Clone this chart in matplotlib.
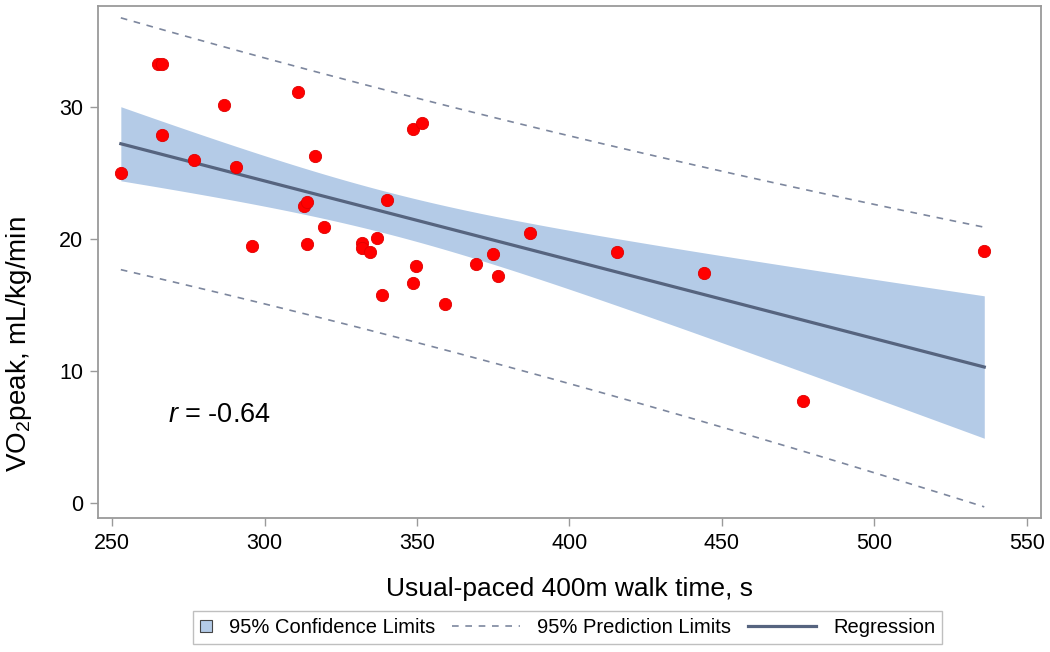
import numpy as np
import matplotlib
matplotlib.use("Agg")
import matplotlib.pyplot as plt
from matplotlib.lines import Line2D
from matplotlib.patches import Rectangle
from matplotlib.legend_handler import HandlerBase

# walk time (s) and VO2peak (mL/kg/min)
walk_time = [252.8, 265.1, 266.2, 286.5, 311.0, 266.3, 276.9, 290.5, 316.5,
             348.8, 351.7, 312.8, 314.0, 340.1, 387.0, 319.5, 295.7, 313.8,
             332.0, 331.8, 334.5, 336.7, 374.8, 369.2, 376.5, 349.5, 348.8,
             338.5, 359.2, 415.7, 444.2, 476.6, 536.1]
vo2peak = [25.0, 33.3, 33.3, 30.2, 31.2, 27.9, 26.0, 25.5, 26.3,
           28.4, 28.8, 22.5, 22.8, 23.0, 20.5, 20.9, 19.5, 19.6,
           19.7, 19.3, 19.0, 20.1, 18.9, 18.1, 17.2, 18.0, 16.7,
           15.8, 15.05, 19.0, 17.45, 7.7, 19.1]

x_ticks = [250, 300, 350, 400, 450, 500, 550]
y_ticks = [0, 10, 20, 30]
r_label = "-0.64"
t_crit = 2.04  # t(0.975, df=31)

plt.rcParams["font.family"] = ["Liberation Sans", "DejaVu Sans"]
plt.rcParams["mathtext.fontset"] = "custom"
plt.rcParams["mathtext.rm"] = "Liberation Sans"
plt.rcParams["mathtext.it"] = "Liberation Sans:italic"

# =====================================================
# LINEAR FIT WITH CONFIDENCE / PREDICTION LIMITS
# =====================================================

x = np.array(walk_time)
y = np.array(vo2peak)
n = len(x)
slope, intercept = np.polyfit(x, y, 1)
resid = y - (intercept + slope * x)
s = np.sqrt(np.sum(resid ** 2) / (n - 2))
sxx = np.sum((x - x.mean()) ** 2)

xg = np.linspace(x.min(), x.max(), 200)
yg = intercept + slope * xg
se_mean = s * np.sqrt(1.0 / n + (xg - x.mean()) ** 2 / sxx)
se_pred = s * np.sqrt(1.0 + 1.0 / n + (xg - x.mean()) ** 2 / sxx)

band_color = "#b4cbe7"
line_color = "#56647f"
pred_color = "#7d879e"
frame_color = "#9a9a9a"
dash = (0, (4, 4))

fig = plt.figure(figsize=(10.5, 6.52), dpi=100)
ax = fig.add_axes([0.0936, 0.2055, 0.8975, 0.7853])

ax.fill_between(xg, yg - t_crit * se_mean, yg + t_crit * se_mean,
                color=band_color, linewidth=0, zorder=1)
ax.plot(xg, yg + t_crit * se_pred, color=pred_color, linewidth=1.2,
        linestyle=dash, zorder=2)
ax.plot(xg, yg - t_crit * se_pred, color=pred_color, linewidth=1.2,
        linestyle=dash, zorder=2)
ax.plot(xg, yg, color=line_color, linewidth=2.3, zorder=3)
ax.scatter(x, y, s=78, color="#ff0000", edgecolors="#e00000",
           linewidths=0.6, zorder=4)

ax.text(268.3, 6.1, "$r$ = " + r_label, fontsize=19.5, ha="left",
        va="baseline")

ax.set_xlim(245.4, 554.6)
ax.set_ylim(-1.16, 37.7)
ax.set_xticks(x_ticks)
ax.set_yticks(y_ticks)
ax.tick_params(axis="both", labelsize=15.5, color=frame_color, length=6,
               width=1.0, pad=5)

for spine in ax.spines.values():
    spine.set_color(frame_color)
    spine.set_linewidth(1.3)

ax.set_xlabel("Usual-paced 400m walk time, s", fontsize=19, labelpad=16)
ax.set_ylabel("VO$_2$peak, mL/kg/min", fontsize=20)
ax.yaxis.set_label_coords(-0.068, 0.340)

# =====================================================
# LEGEND
# =====================================================


class SquareHandler(HandlerBase):
    def create_artists(self, legend, orig_handle, xdescent, ydescent,
                       width, height, fontsize, trans):
        side = width
        p = Rectangle((-xdescent, -ydescent + (height - side) / 2), side, side,
                      facecolor=band_color, edgecolor="#444444",
                      linewidth=0.8, transform=trans)
        return [p]


class LongLineHandler(HandlerBase):
    # line reaches left past the (short) handle box
    def create_artists(self, legend, orig_handle, xdescent, ydescent,
                       width, height, fontsize, trans):
        yc = -ydescent + height / 2
        extra = 40
        ln = Line2D([-xdescent - extra, -xdescent + width], [yc, yc],
                    color=orig_handle.get_color(),
                    linewidth=orig_handle.get_linewidth(),
                    linestyle=orig_handle.get_linestyle(),
                    transform=trans)
        if orig_handle.get_linestyle() == "--":
            ln.set_linestyle(dash)
        return [ln]


handles = [
    Rectangle((0, 0), 1, 1, facecolor=band_color),
    Line2D([], [], color=pred_color, linewidth=1.2, linestyle="--"),
    Line2D([], [], color=line_color, linewidth=2.3),
]
labels = ["95% Confidence Limits", "95% Prediction Limits", "Regression"]
leg = fig.legend(handles, labels, loc="center",
                 bbox_to_anchor=(0.5405, 0.0376),
                 ncol=3, fontsize=14.5, frameon=True, fancybox=False,
                 edgecolor="#b0b0b0", handlelength=0.6, handletextpad=0.85,
                 columnspacing=3.6, borderpad=0.35, borderaxespad=0,
                 handler_map={Rectangle: SquareHandler(),
                              Line2D: LongLineHandler()})
leg.get_frame().set_linewidth(1.0)

fig.savefig("out.png", dpi=100)
